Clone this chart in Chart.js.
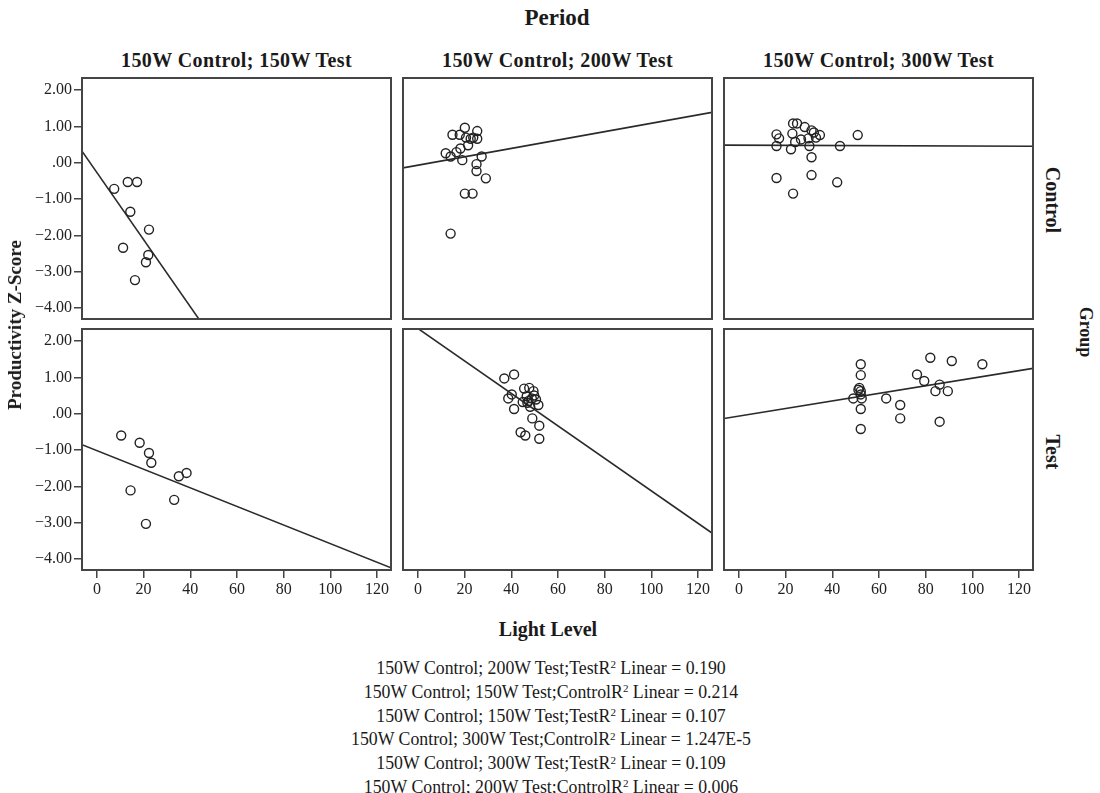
<!DOCTYPE html>
<html>
<head>
<meta charset="utf-8">
<script src="https://cdn.jsdelivr.net/npm/chart.js@4.4.0/dist/chart.umd.min.js"></script>
<style>
  body { margin: 0; background: #fff; }
  #wrap { position: relative; width: 1100px; height: 793px; overflow: hidden;
          font-family: 'Liberation Serif', 'Times New Roman', serif; color: #1a1a1a; }
  #wrap canvas { position: absolute; }
  .lbl { position: absolute; white-space: nowrap; font-weight: bold; transform: translate(-50%, -50%); }
  #r2 { position: absolute; left: 251px; width: 600px; top: 658px; text-align: center;
        font-size: 17.8px; line-height: 21.8px; }
  #r2 sup { font-size: 0.62em; vertical-align: baseline; position: relative; top: -0.5em; }
</style>
</head>
<body>
<div id="wrap"></div>
<script>
// panel headings
var periods = ['150W Control; 150W Test', '150W Control; 200W Test', '150W Control; 300W Test'];
var groups = ['Control', 'Test'];

// Light level (x) and productivity z-score (y), one pair of arrays per panel
var ctrl150x = [7.4, 13.2, 17.2, 14.3, 22.3, 11.2, 22.0, 21.0, 16.3];
var ctrl150y = [-0.72, -0.53, -0.53, -1.35, -1.84, -2.34, -2.54, -2.74, -3.23];

var ctrl200x = [20.1, 14.8, 17.9, 25.4, 20.6, 22.6, 25.4, 23.7, 21.5, 18.2, 16.5, 11.9, 14.0, 19.0, 27.3, 25.1, 25.1, 29.1, 20.1, 23.4, 14.0];
var ctrl200y = [0.96, 0.77, 0.77, 0.87, 0.69, 0.66, 0.66, 0.69, 0.48, 0.39, 0.29, 0.26, 0.17, 0.07, 0.17, -0.04, -0.23, -0.43, -0.85, -0.85, -1.95];

var ctrl300x = [23.2, 24.9, 28.2, 16.1, 17.2, 22.9, 31.1, 32.1, 34.7, 33.0, 26.6, 29.8, 24.1, 50.9, 16.1, 30.2, 22.3, 43.3, 31.1, 16.1, 31.1, 42.1, 23.2];
var ctrl300y = [1.08, 1.08, 0.98, 0.78, 0.67, 0.80, 0.89, 0.83, 0.76, 0.69, 0.64, 0.67, 0.57, 0.76, 0.46, 0.46, 0.37, 0.46, 0.15, -0.42, -0.34, -0.54, -0.85];

var test150x = [10.4, 18.3, 22.3, 23.3, 14.4, 35.1, 38.4, 33.1, 21.0];
var test150y = [-0.60, -0.80, -1.08, -1.35, -2.11, -1.72, -1.63, -2.37, -3.03];

var test200x = [41.2, 37.0, 40.2, 38.7, 41.2, 45.5, 47.7, 49.5, 46.6, 48.8, 50.6, 47.4, 51.6, 48.1, 44.9, 49.0, 52.0, 44.0, 46.0, 52.0, 49.8, 46.9];
var test200y = [1.08, 0.97, 0.53, 0.42, 0.13, 0.69, 0.71, 0.62, 0.48, 0.42, 0.39, 0.35, 0.24, 0.19, 0.32, -0.13, -0.33, -0.51, -0.60, -0.69, 0.50, 0.30];

var test300x = [52.2, 52.2, 51.6, 52.2, 52.2, 49.0, 52.6, 52.2, 52.2, 63.1, 69.1, 69.1, 82.0, 91.2, 104.3, 76.3, 79.4, 86.0, 84.2, 89.5, 86.0, 51.2];
var test300y = [1.36, 1.06, 0.71, 0.62, 0.53, 0.42, 0.42, 0.13, -0.42, 0.42, 0.24, -0.13, 1.54, 1.45, 1.36, 1.08, 0.90, 0.80, 0.62, 0.62, -0.22, 0.66];

// R squared notes under the chart
var r2Period = ['150W Control; 200W Test', '150W Control; 150W Test', '150W Control; 150W Test', '150W Control; 300W Test', '150W Control; 300W Test', '150W Control; 200W Test'];
var r2Group = ['Test', 'Control', 'Test', 'Control', 'Test', 'Control'];
var r2Value = ['0.190', '0.214', '0.107', '1.247E-5', '0.109', '0.006'];

var xMin = -6.4, xMax = 126, yMin = -4.3, yMax = 2.33;

var panels = [
  [[ctrl150x, ctrl150y], [ctrl200x, ctrl200y], [ctrl300x, ctrl300y]],
  [[test150x, test150y], [test200x, test200y], [test300x, test300y]]
];

Chart.defaults.font.family = 'Liberation Serif';
Chart.defaults.font.size = 16;
Chart.defaults.color = '#222';

var wrap = document.getElementById('wrap');

function addLabel(text, x, y, size, rot) {
  var d = document.createElement('div');
  d.className = 'lbl';
  d.textContent = text;
  d.style.left = x + 'px';
  d.style.top = y + 'px';
  d.style.fontSize = size + 'px';
  if (rot) d.style.transform = 'translate(-50%, -50%) rotate(' + rot + 'deg)';
  wrap.appendChild(d);
  return d;
}

// least squares line across the whole x range
function fitLine(xs, ys) {
  var n = xs.length, mx = 0, my = 0, sxy = 0, sxx = 0;
  for (var i = 0; i < n; i++) { mx += xs[i]; my += ys[i]; }
  mx /= n; my /= n;
  for (var i = 0; i < n; i++) {
    sxy += (xs[i] - mx) * (ys[i] - my);
    sxx += (xs[i] - mx) * (xs[i] - mx);
  }
  var b = sxy / sxx, a = my - b * mx;
  return [{x: xMin, y: a + b * xMin}, {x: xMax, y: a + b * xMax}];
}

function fmtY(v) {
  if (v === 0) return '.00';
  return (v < 0 ? '\u2212' : '') + Math.abs(v).toFixed(2);
}

var framePlugin = {
  id: 'frame',
  afterDraw: function(chart) {
    var a = chart.chartArea, c = chart.ctx;
    c.save();
    c.strokeStyle = '#454545';
    c.lineWidth = 2;
    c.strokeRect(a.left, a.top, a.right - a.left, a.bottom - a.top);
    c.restore();
  }
};

var colLeft = [82, 403, 724], rowTop = [78, 329];
var plotW = 309, plotH = 241, pad = 2;

for (var r = 0; r < 2; r++) {
  for (var c = 0; c < 3; c++) {
    var xs = panels[r][c][0], ys = panels[r][c][1];
    var yW = c === 0 ? 72 : 0;
    var xH = r === 1 ? 32 : 0;
    var cv = document.createElement('canvas');
    cv.width = plotW + yW + 2 * pad;
    cv.height = plotH + xH + 2 * pad;
    cv.style.left = (colLeft[c] - yW - pad) + 'px';
    cv.style.top = (rowTop[r] - pad) + 'px';
    wrap.appendChild(cv);

    var pts = xs.map(function(x, i) { return {x: x, y: ys[i]}; });

    new Chart(cv.getContext('2d'), {
      type: 'scatter',
      data: {
        datasets: [{
          data: pts,
          pointRadius: 4.5,
          pointBorderWidth: 1.4,
          borderColor: '#222',
          backgroundColor: 'rgba(0,0,0,0)'
        }, {
          type: 'line',
          data: fitLine(xs, ys),
          borderColor: '#2a2a2a',
          borderWidth: 1.6,
          pointRadius: 0,
          fill: false
        }]
      },
      options: {
        responsive: false,
        animation: false,
        layout: {padding: pad, autoPadding: false},
        plugins: {legend: {display: false}, tooltip: {enabled: false}},
        scales: {
          x: {
            type: 'linear', position: 'bottom', display: r === 1,
            min: xMin, max: xMax,
            ticks: {stepSize: 20, includeBounds: false, font: {family: 'Liberation Serif', size: 16}, color: '#222', padding: 2, maxRotation: 0},
            grid: {drawOnChartArea: false, drawTicks: true, tickLength: 8, color: '#444', lineWidth: 1.5},
            border: {display: false},
            afterFit: (function(h) {
              return function(s) { s.height = h; s.paddingLeft = 0; s.paddingRight = 0; };
            })(xH)
          },
          y: {
            type: 'linear', position: 'left', display: c === 0,
            min: yMin, max: yMax,
            ticks: {stepSize: 1, includeBounds: false, font: {family: 'Liberation Serif', size: 16}, color: '#222', padding: 2, callback: fmtY},
            grid: {drawOnChartArea: false, drawTicks: true, tickLength: 8, color: '#444', lineWidth: 1.5},
            border: {display: false},
            afterFit: (function(w) {
              return function(s) { s.width = w; s.paddingTop = 0; s.paddingBottom = 0; };
            })(yW)
          }
        }
      },
      plugins: [framePlugin]
    });
  }
}

// titles and strip labels
addLabel('Period', 557, 18, 23);
var colCenter = [236.5, 557.5, 878.5];
periods.forEach(function(p, i) {
  var d = addLabel(p, colCenter[i], 60, 20);
  d.style.letterSpacing = '0.4px';
});
addLabel(groups[0], 1052, 200, 20, 90);
addLabel(groups[1], 1052, 452, 20, 90);
addLabel('Group', 1085, 332, 18, 90);
addLabel('Productivity Z-Score', 15, 325, 19, -90);
addLabel('Light Level', 548, 629, 20);

var r2 = document.createElement('div');
r2.id = 'r2';
r2.innerHTML = r2Period.map(function(p, i) {
  return p + ';' + r2Group[i] + 'R<sup>2</sup> Linear = ' + r2Value[i];
}).join('<br>');
wrap.appendChild(r2);
</script>
</body>
</html>
